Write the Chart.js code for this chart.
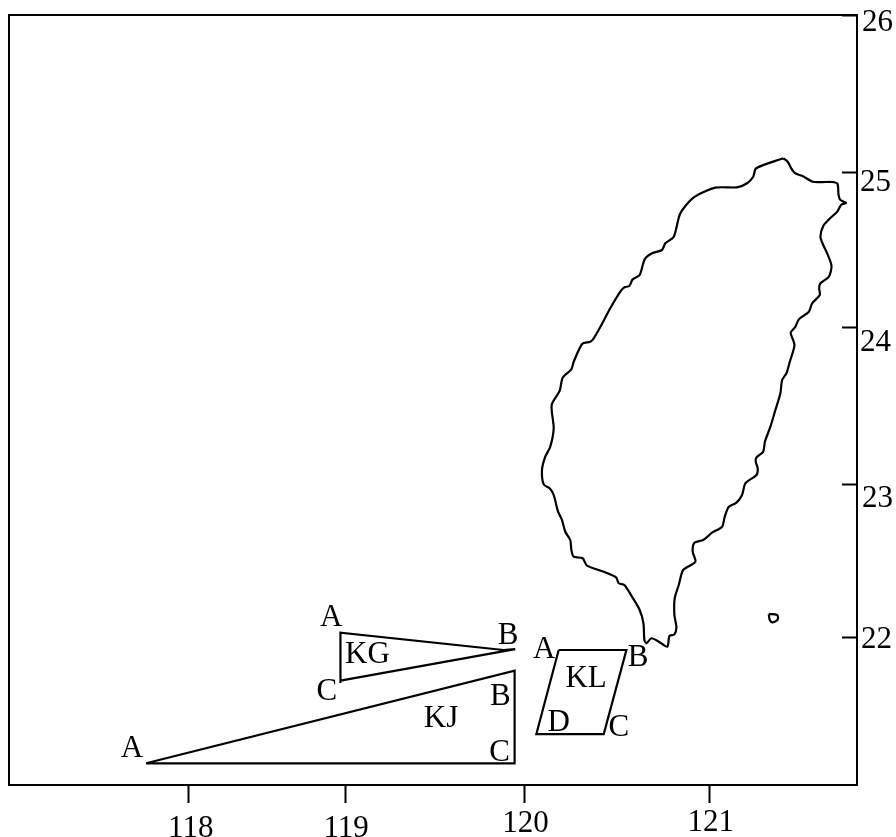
<!DOCTYPE html>
<html>
<head>
<meta charset="utf-8">
<title>Taiwan map</title>
<script src="https://cdn.jsdelivr.net/npm/chart.js@4/dist/chart.umd.min.js"></script>
<style>
html, body { margin: 0; padding: 0; background: #fff; }
canvas { display: block; }
</style>
</head>
<body>
<canvas id="mapChart" width="896" height="837"></canvas>
<script>
// tick values sit where the printed map has its (uneven) tick marks
const xTickValues = [118, 119, 120.148, 121.332];
const xTickLabels = ['118', '119', '120', '121'];
const yTickValues = [26, 24.995, 23.997, 22.998, 22.015];
const yTickLabels = ['26', '25', '24', '23', '22'];

// coast, clockwise from the north tip
const coastLon = [121.802,121.831,121.853,121.876,121.934,121.991,122.051,122.115,122.149,122.156,122.168,122.205,122.173,122.147,122.094,122.058,122.040,122.058,122.083,122.111,122.094,122.040,122.032,122.036,121.987,121.966,121.902,121.880,121.850,121.874,121.844,121.823,121.795,121.784,121.752,121.720,121.685,121.674,121.631,121.626,121.639,121.631,121.560,121.539,121.503,121.454,121.428,121.411,121.347,121.290,121.234,121.223,121.240,121.162,121.134,121.108,121.106,121.119,121.106,121.074,121.061,121.006,120.959,120.927,120.914,120.908,120.884,120.835,120.786,120.750,120.733,120.654,120.547,120.519,120.462,120.447,120.440,120.408,120.387,120.362,120.334,120.308,120.270,120.259,120.280,120.312,120.334,120.321,120.372,120.392,120.447,120.462,120.517,120.568,120.590,120.632,120.696,120.760,120.786,120.818,120.839,120.884,120.916,120.963,121.027,121.048,121.102,121.144,121.230,121.368,121.507,121.571,121.610,121.629,121.802];
const coastLat = [25.083,25.061,25.019,24.989,24.965,24.933,24.931,24.931,24.920,24.848,24.816,24.797,24.786,24.741,24.692,24.650,24.581,24.528,24.475,24.394,24.325,24.283,24.251,24.208,24.155,24.101,24.052,24.005,23.967,23.888,23.781,23.707,23.664,23.579,23.472,23.365,23.269,23.205,23.169,23.141,23.099,23.056,23.003,22.928,22.879,22.853,22.789,22.725,22.687,22.640,22.623,22.565,22.501,22.448,22.352,22.267,22.160,22.081,22.036,22.026,21.957,21.989,22.011,21.979,22.000,22.107,22.192,22.277,22.352,22.363,22.401,22.437,22.476,22.523,22.533,22.576,22.640,22.693,22.768,22.821,22.928,22.971,22.996,23.088,23.173,23.237,23.355,23.504,23.594,23.680,23.732,23.781,23.896,23.909,23.931,24.003,24.123,24.229,24.257,24.266,24.308,24.336,24.436,24.475,24.496,24.539,24.581,24.731,24.833,24.895,24.897,24.923,24.965,25.019,25.083];

const isletLon = [121.710,121.763,121.767,121.735,121.716,121.710];
const isletLat = [22.166,22.160,22.132,22.113,22.128,22.166];

const kgLon = [118.970,118.970,120.012,120.088,118.970];
const kgLat = [21.725,22.047,21.936,21.942,21.740];

const kjLon = [117.727,120.084,120.084,117.727];
const kjLat = [21.211,21.804,21.211,21.211];

const klLon = [120.366,120.799,120.654,120.223,120.366];
const klLat = [21.936,21.936,21.398,21.398,21.936];

const placeNames = ['A','C','KG','A','B','B','KJ','C','A','B','KL','D','C'];
const placeLon = [118.911,118.883,119.143,117.637,120.042,119.992,119.613,119.988,120.274,120.874,120.541,120.366,120.750];
const placeLat = [22.145,21.674,21.910,21.307,22.032,21.644,21.499,21.285,21.942,21.893,21.755,21.473,21.441];

const serif = '"Liberation Serif", "Times New Roman", serif';

function toPoints(lons, lats) {
    return lons.map((lon, i) => ({ x: lon, y: lats[i] }));
}

function outline(label, lons, lats, tension) {
    return {
        label: label,
        data: toPoints(lons, lats),
        showLine: true,
        fill: false,
        borderColor: '#000',
        borderWidth: 2.2,
        pointRadius: 0,
        tension: tension
    };
}

// hand lettered map: tick numbers are not quite lined up with their marks
const xLabelShift = [[2, 2], [1, 2], [1, -3], [1, -4]];
const yLabelShift = [[0, 8], [-2, 11], [-2, 15], [0, 15], [-1, 2]];

const shiftTickLabels = {
    id: 'shiftTickLabels',
    beforeDraw(chart) {
        [['x', xLabelShift], ['y', yLabelShift]].forEach(([id, shift]) => {
            chart.scales[id].getLabelItems(chart.chartArea).forEach((item, i) => {
                if (item.shifted) return;
                item.options.translation[0] += shift[i][0];
                item.options.translation[1] += shift[i][1];
                item.shifted = true;
            });
        });
    }
};

const placeLabels = {
    id: 'placeLabels',
    afterDatasetsDraw(chart) {
        const ctx = chart.ctx;
        ctx.save();
        ctx.fillStyle = '#000';
        ctx.font = '31px ' + serif;
        ctx.textAlign = 'center';
        ctx.textBaseline = 'middle';
        placeNames.forEach((name, i) => {
            ctx.fillText(name, chart.scales.x.getPixelForValue(placeLon[i]), chart.scales.y.getPixelForValue(placeLat[i]) + 1);
        });
        ctx.restore();
    }
};

// the top and left edges of the frame, no ticks
function edgeAxis(position, min, max, size) {
    return {
        position: position,
        min: min,
        max: max,
        grid: { drawOnChartArea: false, drawTicks: false },
        border: { color: '#000', width: 2 },
        ticks: { display: false },
        afterFit(scale) {
            if (size === 'h') scale.height = 0; else scale.width = 0;
        }
    };
}

const ctx = document.getElementById('mapChart').getContext('2d');
new Chart(ctx, {
    type: 'scatter',
    data: {
        datasets: [
            outline('Taiwan', coastLon, coastLat, 0.25),
            outline('Islet', isletLon, isletLat, 0.3),
            outline('KG', kgLon, kgLat, 0),
            outline('KJ', kjLon, kjLat, 0),
            outline('KL', klLon, klLat, 0)
        ]
    },
    options: {
        responsive: false,
        animation: false,
        layout: { padding: { left: 9, top: 15, right: 0, bottom: 0 } },
        plugins: { legend: { display: false }, tooltip: { enabled: false } },
        scales: {
            x: {
                position: 'bottom',
                min: 116.85,
                max: 122.274,
                afterBuildTicks(scale) {
                    scale.ticks = xTickValues.map(v => ({ value: v }));
                },
                afterFit(scale) {
                    scale.height = 52;
                    scale.paddingLeft = 0;
                    scale.paddingRight = 0;
                },
                grid: { drawOnChartArea: false, tickLength: 18, tickColor: '#000', tickWidth: 2 },
                border: { color: '#000', width: 2 },
                ticks: {
                    autoSkip: false,
                    maxRotation: 0,
                    padding: 5,
                    color: '#000',
                    font: { family: serif, size: 31 },
                    callback: (v, i) => xTickLabels[i]
                }
            },
            y: {
                position: 'right',
                min: 21.072,
                max: 26,
                afterBuildTicks(scale) {
                    scale.ticks = yTickValues.map(v => ({ value: v }));
                },
                afterFit(scale) {
                    scale.width = 39;
                    scale.paddingTop = 0;
                    scale.paddingBottom = 0;
                },
                // negative length turns the marks inwards
                grid: { drawOnChartArea: false, tickLength: -15, tickColor: '#000', tickWidth: 2 },
                border: { color: '#000', width: 2 },
                ticks: {
                    autoSkip: false,
                    padding: 20,
                    color: '#000',
                    font: { family: serif, size: 31 },
                    callback: (v, i) => yTickLabels[i]
                }
            },
            xTop: edgeAxis('top', 116.85, 122.274, 'h'),
            yLeft: edgeAxis('left', 21.072, 26, 'w')
        }
    },
    plugins: [shiftTickLabels, placeLabels]
});
</script>
</body>
</html>
